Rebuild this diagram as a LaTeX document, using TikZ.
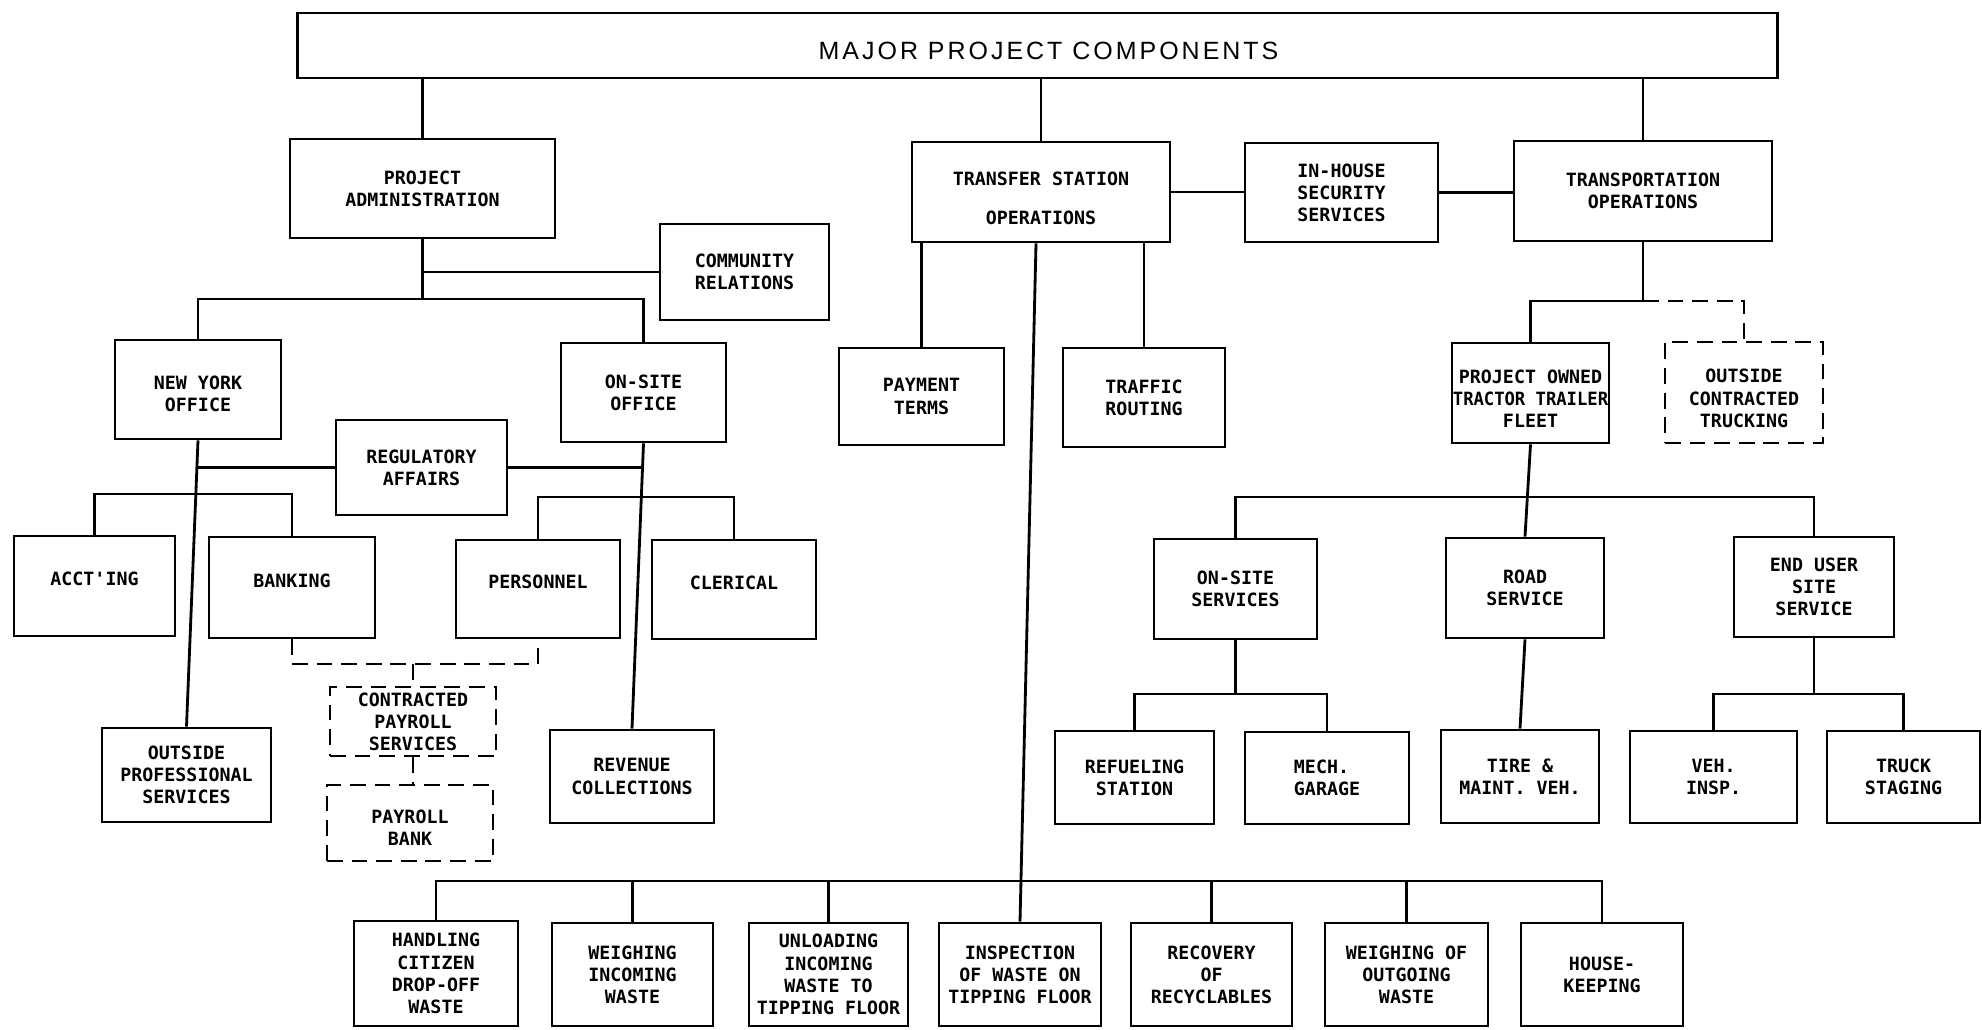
\documentclass[tikz,border=0pt]{standalone}
\usepackage{fontspec}
\setmainfont{Liberation Sans}
\newfontfamily\boxfont{DejaVu Sans Mono}
\newfontfamily\titlefont[LetterSpace=12]{Liberation Sans}
\newcommand\mybox[7][]{\node[box,#1,minimum width={(#5-#3)*0.01cm},minimum height={(#6-#4)*0.01cm}] (#2) at ({(#3+#5)/2},{(#4+#6)/2}) {#7};}
\newcommand\topgap[1]{\rule{0pt}{#1}}
\begin{document}
\begin{tikzpicture}[x=0.01cm,y=-0.01cm,
  line width=0.8pt,
  box/.style={draw, inner sep=0pt, align=center, font=\boxfont\bfseries\fontsize{5.2pt}{6.3pt}\selectfont},
  dbox/.style={dash pattern=on 4.5pt off 2.5pt},
  dline/.style={dash pattern=on 4.5pt off 2.5pt},
  single/.style={text depth=0.14cm}]
\useasboundingbox (0,0) rectangle (1982,1029);
\fill[white] (0,0) rectangle (1982,1029);

\node[draw, inner sep=0pt, minimum width=14.79cm, minimum height=0.65cm, text height=7.9pt, font=\titlefont\fontsize{7.1pt}{8pt}\selectfont] (top) at (1037.5,45.5) {\hspace*{0.22cm}MAJOR PROJECT COMPONENTS};

\mybox{pa}{290}{139}{555}{238}{PROJECT\\ADMINISTRATION}
\mybox{cr}{660}{224}{829}{320}{COMMUNITY\\RELATIONS}
\mybox{ny}{115}{340}{281}{439}{\topgap{6.1pt}NEW YORK\\OFFICE}
\mybox{ons}{561}{343}{726}{442}{ON-SITE\\OFFICE}
\mybox{reg}{336}{420}{507}{515}{REGULATORY\\AFFAIRS}
\mybox[single]{acct}{14}{536}{175}{636}{ACCT'ING}
\mybox[single]{bank}{209}{537}{375}{638}{BANKING}
\mybox[single]{pers}{456}{540}{620}{638}{PERSONNEL}
\mybox[single]{cler}{652}{540}{816}{639}{CLERICAL}
\mybox[dbox]{cps}{330}{687}{496}{756}{CONTRACTED\\PAYROLL\\SERVICES}
\mybox[dbox]{pb}{327}{785}{493}{861}{\topgap{6.65pt}PAYROLL\\BANK}
\mybox{ops}{102}{728}{271}{822}{OUTSIDE\\PROFESSIONAL\\SERVICES}
\mybox{rev}{550}{730}{714}{823}{REVENUE\\COLLECTIONS}
\mybox{tso}{912}{142}{1170}{242}{\topgap{7.2pt}TRANSFER STATION\\[4.8pt]OPERATIONS}
\mybox{ih}{1245}{143}{1438}{242}{IN-HOUSE\\SECURITY\\SERVICES}
\mybox{trans}{1514}{141}{1772}{241}{TRANSPORTATION\\OPERATIONS}
\mybox{pt}{839}{348}{1004}{445}{PAYMENT\\TERMS}
\mybox{tr}{1063}{348}{1225}{447}{TRAFFIC\\ROUTING}
\mybox{fleet}{1452}{343}{1609}{443}{\topgap{7.2pt}PROJECT OWNED\\\scalebox{0.94}[1]{TRACTOR TRAILER}\\FLEET}
\mybox[dbox]{oct}{1665}{342}{1823}{443}{\topgap{7.2pt}OUTSIDE\\CONTRACTED\\TRUCKING}
\mybox{oss}{1154}{539}{1317}{639}{ON-SITE\\SERVICES}
\mybox{rs}{1446}{538}{1604}{638}{ROAD\\SERVICE}
\mybox{eu}{1734}{537}{1894}{637}{END USER\\SITE\\SERVICE}
\mybox{ref}{1055}{731}{1214}{824}{REFUELING\\STATION}
\mybox[align=left]{mech}{1245}{732}{1409}{824}{MECH.\\GARAGE}
\mybox{tire}{1441}{730}{1599}{823}{TIRE \&\\MAINT. VEH.}
\mybox{veh}{1630}{731}{1797}{823}{VEH.\\INSP.}
\mybox{truck}{1827}{731}{1980}{823}{TRUCK\\STAGING}
\mybox{hand}{354}{921}{518}{1026}{HANDLING\\CITIZEN\\DROP-OFF\\WASTE}
\mybox{wi}{552}{923}{713}{1026}{WEIGHING\\INCOMING\\WASTE}
\mybox{unl}{749}{923}{908}{1026}{UNLOADING\\INCOMING\\WASTE TO\\TIPPING FLOOR}
\mybox{insp}{939}{923}{1101}{1026}{INSPECTION\\OF WASTE ON\\TIPPING FLOOR}
\mybox{rec}{1131}{923}{1292}{1026}{RECOVERY\\OF\\RECYCLABLES}
\mybox{wo}{1325}{923}{1488}{1026}{WEIGHING OF\\OUTGOING\\WASTE}
\mybox{hk}{1521}{923}{1683}{1026}{HOUSE-\\KEEPING}

% top level
\draw (top.south -| pa.north) -- (pa.north);
\draw (top.south -| tso.north) -- (tso.north);
\draw (top.south -| trans.north) -- (trans.north);
\draw (tso.east) -- (tso.east -| ih.west);
\draw (ih.east) -- (ih.east -| trans.west);

% project administration
\coordinate (b1) at (pa.south |- 0,299);
\draw (pa.south) -- (b1);
\draw (ny.north) |- (b1) -| (ons.north);
\draw (pa.south |- cr.west) -- (cr.west);
\draw (ny.south) -- (ops.north);
\draw (reg.west) -- (reg.west -| ny.south);
\coordinate (b2) at (ny.south |- 0,494);
\draw (acct.north) |- (b2) -| (bank.north);
\draw (ons.south) -- (rev.north);
\draw (reg.east) -- (reg.east -| ons.south);
\coordinate (b3) at (ons.south |- 0,497);
\draw (pers.north) |- (b3) -| (cler.north);
\coordinate (b4) at (cps.north |- 0,664);
\draw[dline] (bank.south) |- (b4) -| (pers.south);
\draw[dline] (b4) -- (cps.north);
\draw[dline] (cps.south) -- (cps.south |- pb.north);

% transfer station
\draw (pt.north) -- (pt.north |- tso.south);
\draw (tr.north) -- (tr.north |- tso.south);
\draw ([xshift=-0.05cm]tso.south) -- (insp.north);
\coordinate (b5) at (insp.north |- 0,881);
\draw (hand.north) |- (b5) -| (hk.north);
\foreach \n in {wi,unl,rec,wo} \draw (\n.north) -- (\n.north |- b5);

% transportation
\coordinate (b6) at (trans.south |- 0,301);
\draw (trans.south) -- (b6) -| (fleet.north);
\draw[dline] (b6) -| (oct.north);
\coordinate (b7) at (fleet.south |- 0,497);
\draw (oss.north) |- (b7) -| (eu.north);
\draw (fleet.south) -- (rs.north);
\coordinate (b8) at (oss.south |- 0,694);
\draw (oss.south) -- (b8);
\draw (ref.north) |- (b8) -| (mech.north);
\draw (rs.south) -- (tire.north);
\coordinate (b9) at (eu.south |- 0,694);
\draw (eu.south) -- (b9);
\draw (veh.north) |- (b9) -| (truck.north);
\end{tikzpicture}
\end{document}
